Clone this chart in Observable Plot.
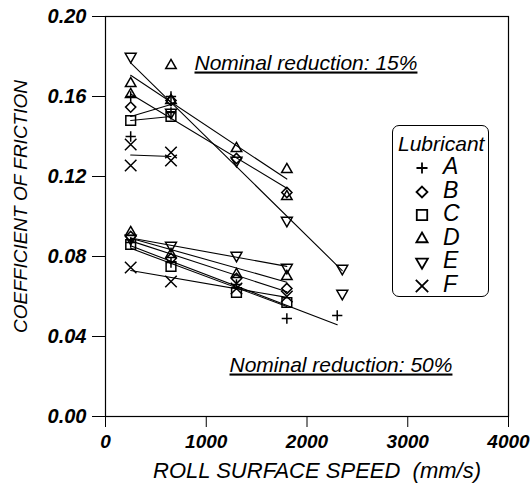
<!DOCTYPE html>
<html><head><meta charset="utf-8">
<script src="https://cdn.jsdelivr.net/npm/d3@7"></script>
<script src="https://cdn.jsdelivr.net/npm/@observablehq/plot@0.6"></script>
<style>
body{margin:0;background:#fff;}
#chart{position:relative;width:530px;height:489px;font-family:"Liberation Sans",Arial,sans-serif;}
#chart svg{display:block;}
.legend{position:absolute;left:392px;top:125px;width:97px;height:172px;border:1.3px solid #000;border-radius:7px;box-sizing:border-box;background:#fff;}
.legend .ttl{position:absolute;left:5px;top:7px;font-style:italic;font-size:21px;line-height:1;}
.legend .row{position:absolute;left:0;width:95px;height:22px;}
.legend .row svg{position:absolute;left:18px;top:0;}
.legend .row span{position:absolute;left:50px;top:-2px;font-style:italic;font-size:23px;line-height:1;}
</style></head><body><div id="chart"></div><script>
// Lubricant categories and reductions
const lubricants = ["A","B","C","D","E","F"];
const reductions = ["15%","50%"];

// Nominal reduction 15%: [roll surface speed (mm/s), coefficient of friction]
const A15 = [[250,0.160],[250,0.140],[650,0.152],[650,0.160]];
const B15 = [[250,0.1547],[650,0.158],[1300,0.129],[1800,0.112]];
const C15 = [[250,0.148],[650,0.150]];
const D15 = [[250,0.1665],[250,0.161],[650,0.1755],[650,0.158],[1300,0.134],[1800,0.1235],[1800,0.110]];
const E15 = [[250,0.180],[650,0.152],[1300,0.128],[1800,0.098],[2350,0.074]];
const F15 = [[250,0.136],[250,0.1255],[650,0.132],[650,0.128]];

// Nominal reduction 50%
const A50 = [[250,0.087],[650,0.077],[1300,0.066],[1800,0.049],[2300,0.0505]];
const B50 = [[250,0.090],[650,0.079],[1300,0.069],[1800,0.064]];
const C50 = [[250,0.086],[650,0.075],[1300,0.062],[1800,0.057]];
const D50 = [[250,0.092],[650,0.081],[1300,0.071],[1800,0.070]];
const E50 = [[250,0.089],[650,0.0855],[1300,0.0805],[1800,0.0745]];
const F50 = [[250,0.0745],[650,0.0675],[1300,0.064],[1800,0.060]];
// measured but not part of a fitted line
const E50extra = [[2350,0.0615]];

const xTicks = [0,1000,2000,3000,4000];
const yTicks = [0,0.04,0.08,0.12,0.16,0.20];

const series = [
  ["A","15%",A15],["B","15%",B15],["C","15%",C15],["D","15%",D15],["E","15%",E15],["F","15%",F15],
  ["A","50%",A50],["B","50%",B50],["C","50%",C50],["D","50%",D50],["E","50%",E50],["F","50%",F50]
];
const rows = series.flatMap(([lub, red, pts]) => pts.map(([x, y]) => ({lub, red, key: lub + red, x, y, fit: true})))
  .concat(E50extra.map(([x, y]) => ({lub: "E", red: "50%", key: "E50x", x, y, fit: false})));

const triDown = {draw(ctx, size) {
  const s = Math.sqrt(size) * 0.6824, t = s / 2, u = s * Math.sqrt(3) / 2;
  ctx.moveTo(0, s); ctx.lineTo(u, -t); ctx.lineTo(-u, -t); ctx.closePath();
}};
const symbolOf = {
  A: {symbol: d3.symbolPlus, r: 3.4},
  B: {symbol: d3.symbolDiamond2, r: 4.6},
  C: {symbol: d3.symbolSquare2, r: 6.2},
  D: {symbol: d3.symbolTriangle2, r: 5},
  E: {symbol: triDown, r: 5.2},
  F: {symbol: d3.symbolTimes, r: 5.3}
};

const font = "Liberation Sans, Arial, sans-serif";
const chart = Plot.plot({
  width: 530, height: 489,
  marginLeft: 105, marginRight: 22, marginTop: 16, marginBottom: 73,
  style: {fontFamily: font, background: "#fff", color: "#000"},
  x: {domain: [0, 4000], ticks: xTicks, tickFormat: d => String(d), label: null},
  y: {domain: [0, 0.2], ticks: yTicks, tickFormat: d => d.toFixed(2), label: null},
  marks: [
    Plot.frame({stroke: "#000", strokeWidth: 1.2}),
    Plot.axisX({ticks: xTicks, tickFormat: d => String(d), tickSize: 11, tickPadding: 7, fontSize: 19, fontWeight: "bold", fontStyle: "italic", label: null, stroke: "#000"}),
    Plot.axisY({ticks: yTicks, tickFormat: d => d.toFixed(2), tickSize: 13, tickPadding: 6, fontSize: 20, fontWeight: "bold", fontStyle: "italic", label: null, stroke: "#000"}),
    Plot.linearRegressionY(rows.filter(d => d.fit), {x: "x", y: "y", z: "key", stroke: "#000", strokeWidth: 1.1, ci: 0}),
    ...lubricants.map(l => Plot.dot(rows.filter(d => d.lub === l), {x: "x", y: "y", symbol: symbolOf[l].symbol, r: symbolOf[l].r, stroke: "#000", strokeWidth: 1.5, fill: "none"})),
    Plot.text(["COEFFICIENT OF FRICTION"], {frameAnchor: "left", textAnchor: "middle", rotate: -90, dx: -85, dy: -10, fontSize: 19, fontStyle: "italic", fill: "#000"}),
    Plot.text(["ROLL SURFACE SPEED  (mm/s)"], {frameAnchor: "bottom", textAnchor: "middle", dx: 10, dy: 61, fontSize: 22, fontStyle: "italic", fill: "#000"}),
    Plot.text(["Nominal reduction: " + reductions[0]], {frameAnchor: "top-left", textAnchor: "start", lineAnchor: "bottom", dx: 89, dy: 53, fontSize: 21, fontStyle: "italic", fill: "#000", className: "anno"}),
    Plot.text(["Nominal reduction: " + reductions[1]], {frameAnchor: "top-left", textAnchor: "start", lineAnchor: "bottom", dx: 124, dy: 355, fontSize: 21, fontStyle: "italic", fill: "#000", className: "anno"})
  ]
});
chart.querySelectorAll(".anno text").forEach(t => t.style.textDecoration = "underline");
chart.querySelectorAll("text").forEach(t => t.style.whiteSpace = "pre");
const root = document.getElementById("chart");
root.appendChild(chart);

// Legend
const leg = document.createElement("div");
leg.className = "legend";
leg.innerHTML = '<div class="ttl">Lubricant</div>';
lubricants.forEach((l, i) => {
  const row = document.createElement("div");
  row.className = "row";
  row.style.top = (31 + i * 23.5) + "px";
  const sd = symbolOf[l];
  const path = d3.symbol(sd.symbol, Math.PI * sd.r * sd.r * 1.15)();
  row.innerHTML = `<svg width="22" height="22" viewBox="-11 -11 22 22"><path d="${path}" fill="none" stroke="#000" stroke-width="1.8"/></svg><span>${l}</span>`;
  leg.appendChild(row);
});
root.appendChild(leg);
</script></body></html>
